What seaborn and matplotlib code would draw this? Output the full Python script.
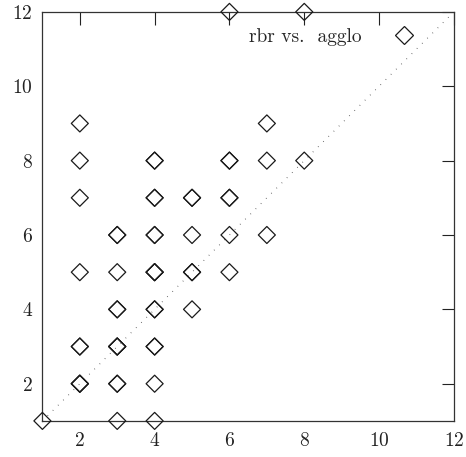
import matplotlib
matplotlib.use("Agg")
import matplotlib.pyplot as plt
import seaborn as sns
import pandas as pd
from matplotlib.lines import Line2D

# data (x = rbr, y = agglo); repeated pairs are overplotted points
rbr = [1,
       2, 2, 2, 2, 2, 2, 2, 2, 2,
       3, 3, 3, 3, 3, 3, 3, 3, 3, 3, 3,
       4, 4, 4, 4, 4, 4, 4, 4, 4, 4, 4, 4, 4, 4, 4,
       5, 5, 5, 5, 5, 5,
       6, 6, 6, 6, 6, 6, 6,
       7, 7, 7,
       8, 8]
agglo = [1,
         2, 2, 2, 3, 3, 5, 7, 8, 9,
         1, 2, 2, 3, 3, 3, 4, 4, 5, 6, 6,
         1, 2, 3, 3, 4, 4, 5, 5, 5, 6, 6, 7, 7, 8, 8,
         4, 5, 5, 6, 7, 7,
         5, 6, 7, 7, 8, 8, 12,
         6, 8, 9,
         8, 12]

xticks = [2, 4, 6, 8, 10, 12]
yticks = [2, 4, 6, 8, 10, 12]
label = "rbr vs.  agglo"

df = pd.DataFrame({"rbr": rbr, "agglo": agglo})

sns.set_style("white")
plt.rcParams['font.family'] = ['cmr10', 'DejaVu Serif']
plt.rcParams['axes.formatter.use_mathtext'] = True

fig = plt.figure(figsize=(4.66, 4.57), dpi=100)
ax = fig.add_axes([0.091, 0.079, 0.883, 0.895])

# diagonal y = x dotted line
ax.plot([1, 12], [1, 12], linestyle=(0, (0.6, 6)), color="#444444",
        linewidth=0.8, zorder=1)

sns.scatterplot(data=df, x="rbr", y="agglo", marker="D", s=75,
                facecolors="none", edgecolors="#1a1a1a", linewidth=0.9,
                ax=ax, clip_on=False, zorder=3, legend=False)

ax.set_xlim(1, 12)
ax.set_ylim(1, 12)
ax.set_xticks(xticks)
ax.set_yticks(yticks)
ax.set_xlabel("")
ax.set_ylabel("")
ax.tick_params(direction="in", length=9, width=0.8, top=True, right=True,
               labelsize=14, colors="#222222")
ax.tick_params(axis="x", pad=8)
ax.tick_params(axis="y", pad=7)
for sp in ax.spines.values():
    sp.set_visible(True)
    sp.set_linewidth(0.9)
    sp.set_color("#333333")

handle = Line2D([], [], linestyle="none", marker="D", markersize=9.5,
                markerfacecolor="none", markeredgecolor="#1a1a1a",
                markeredgewidth=0.9)
ax.legend([handle], [label], loc="upper right", bbox_to_anchor=(0.955, 0.99),
          frameon=False, markerfirst=False, fontsize=14, handletextpad=1.2,
          borderaxespad=0.2)

fig.savefig("out.png", dpi=100)
